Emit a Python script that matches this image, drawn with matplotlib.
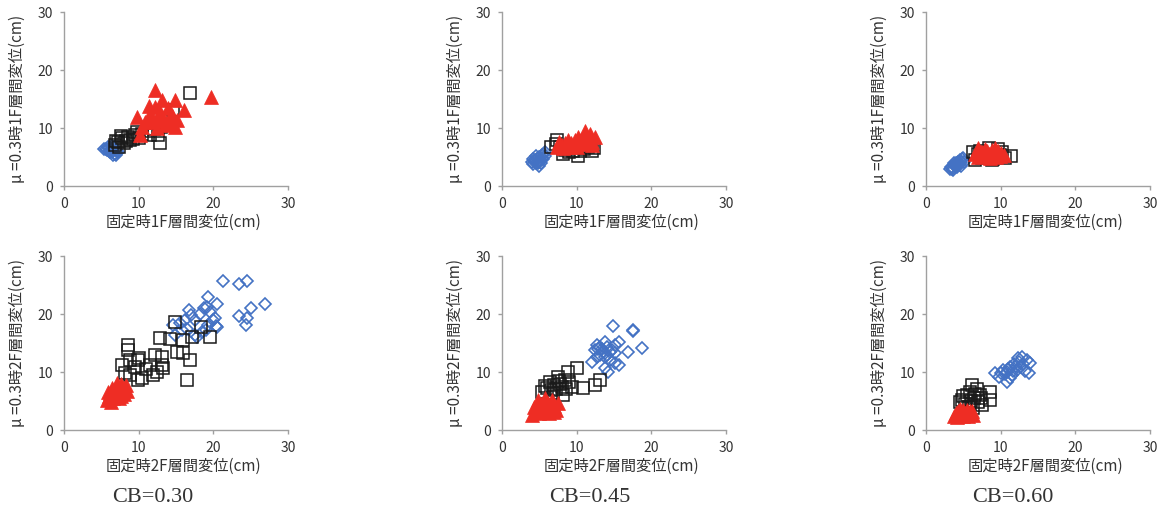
import matplotlib
matplotlib.use("Agg")
import matplotlib.pyplot as plt

plt.rcParams['font.family'] = ['Noto Sans CJK JP', 'DejaVu Sans']

# CB=0.30, 1F
cb30_1f_blue_x = [5.6, 5.8, 6.0, 6.1, 6.3, 6.4, 6.5, 6.6, 6.8, 6.9, 7.0, 7.1, 6.2, 6.7, 5.9, 6.4, 7.2, 6.0, 5.4, 6.6]
cb30_1f_blue_y = [6.4, 6.2, 6.5, 6.0, 6.3, 5.8, 6.6, 6.1, 5.6, 6.2, 5.3, 6.0, 5.9, 6.8, 6.7, 6.9, 5.8, 6.1, 6.3, 5.4]
cb30_1f_black_x = [16.9, 14.6, 12.9, 12.6, 11.5, 9.5, 8.6, 7.8, 7.2, 6.8, 7.4, 8.0, 8.9, 9.8, 10.5, 11.2, 12.0, 13.0, 7.6, 8.3, 9.2, 7.0, 10.0, 12.3]
cb30_1f_black_y = [16.0, 13.1, 7.4, 8.8, 8.8, 8.8, 8.4, 8.2, 7.6, 7.1, 6.8, 7.4, 7.9, 9.3, 9.0, 9.5, 9.8, 10.2, 8.6, 7.7, 8.1, 7.8, 8.3, 11.5]
cb30_1f_red_x = [12.2, 19.7, 14.9, 13.1, 16.1, 11.4, 9.8, 13.9, 12.9, 14.5, 10.8, 11.9, 14.9, 13.5, 10.2, 11.2, 12.6, 12.2, 13.3, 14.1, 11.6, 12.4, 15.1, 13.7, 10.5]
cb30_1f_red_y = [16.6, 15.3, 14.8, 14.8, 13.1, 13.8, 11.9, 13.4, 12.8, 12.2, 11.0, 11.0, 10.2, 10.5, 8.8, 11.7, 11.7, 13.6, 11.2, 11.5, 12.3, 10.0, 11.4, 10.8, 10.2]

# CB=0.30, 2F
cb30_2f_blue_x = [21.3, 23.4, 24.5, 26.9, 25.0, 23.4, 24.5, 24.4, 19.3, 20.5, 19.1, 16.7, 18.2, 20.2, 17.5, 16.2,
                  19.3, 20.5, 14.6, 15.8, 17.5, 14.9, 18.5, 19.5, 19.9, 16.5, 17.8, 20.3, 18.8, 15.5, 19.0, 17.0]
cb30_2f_blue_y = [25.7, 25.2, 25.7, 21.7, 21.0, 19.7, 19.3, 18.1, 22.9, 21.7, 21.2, 20.7, 20.0, 19.3, 19.0, 19.0,
                  18.1, 17.8, 18.1, 17.2, 16.4, 16.4, 16.9, 20.3, 19.0, 17.5, 16.0, 18.0, 21.0, 18.5, 17.2, 19.8]
cb30_2f_black_x = [14.9, 18.3, 19.5, 12.9, 14.2, 15.9, 17.1, 15.1, 15.9, 16.9, 16.5, 8.6, 8.6, 12.2, 13.1, 9.9,
                   13.1, 11.5, 7.8, 8.8, 9.5, 13.3, 11.9, 10.4, 8.8, 9.9, 10.0, 12.5, 11.0, 8.2]
cb30_2f_black_y = [18.6, 17.8, 16.0, 15.9, 15.7, 15.5, 16.0, 13.4, 13.3, 12.1, 8.6, 14.7, 13.8, 12.9, 12.6, 12.1,
                   11.2, 11.2, 11.2, 12.1, 10.9, 10.7, 9.5, 9.0, 9.5, 8.6, 12.5, 10.0, 10.5, 9.8]
cb30_2f_red_x = [5.8, 6.0, 6.2, 6.5, 6.8, 7.0, 7.2, 7.5, 7.6, 7.8, 8.0, 8.3, 8.5, 6.4, 6.9, 7.4, 5.9, 6.6, 7.1, 8.1, 6.3, 7.7]
cb30_2f_red_y = [5.2, 5.8, 6.3, 5.5, 6.8, 7.5, 6.2, 7.0, 8.0, 6.5, 7.2, 7.8, 6.8, 7.2, 5.8, 5.6, 6.5, 6.0, 8.1, 6.2, 4.9, 5.9]

# CB=0.45, 1F
cb45_1f_blue_x = [4.0, 4.2, 4.4, 4.5, 4.7, 4.8, 5.0, 5.1, 5.3, 5.4, 5.6, 5.7, 4.3, 4.9, 5.2, 4.6, 5.5, 4.1, 5.0, 5.7]
cb45_1f_blue_y = [4.1, 3.8, 4.5, 4.0, 4.7, 3.9, 5.0, 4.4, 5.3, 4.8, 5.6, 5.2, 4.3, 4.2, 3.9, 5.1, 4.6, 4.6, 3.5, 5.8]
cb45_1f_black_x = [7.4, 8.2, 10.2, 12.0, 6.6, 8.5, 9.5, 11.0, 11.5, 12.3, 7.8, 9.0, 10.5, 7.2]
cb45_1f_black_y = [7.9, 5.5, 5.2, 6.0, 6.7, 6.2, 6.0, 6.3, 6.8, 6.5, 6.8, 5.8, 6.1, 7.3]
cb45_1f_red_x = [7.3, 7.6, 8.0, 8.5, 8.9, 9.3, 9.8, 10.2, 10.6, 11.1, 11.4, 11.8, 12.1, 12.4, 8.2, 9.0, 9.7, 10.5, 11.2, 12.0, 7.8, 10.0]
cb45_1f_red_y = [6.7, 7.6, 7.0, 7.5, 8.0, 7.4, 7.9, 8.5, 8.0, 9.4, 8.3, 8.9, 7.6, 8.4, 6.6, 6.8, 7.0, 7.2, 7.5, 7.0, 7.2, 6.7]

# CB=0.45, 2F
cb45_2f_blue_x = [14.9, 17.5, 17.6, 18.7, 16.9, 15.7, 15.1, 13.8, 12.7, 12.5, 13.5, 12.0, 12.7, 13.8, 14.2, 15.7,
                  15.1, 14.5, 15.1, 14.1, 13.1, 14.7, 13.8, 13.1, 14.0, 13.4, 14.4, 12.9]
cb45_2f_blue_y = [17.9, 17.2, 17.1, 14.1, 13.4, 15.2, 14.7, 15.2, 14.7, 13.8, 13.4, 11.7, 12.6, 10.7, 10.0, 11.2,
                  11.6, 12.1, 13.3, 14.3, 14.3, 13.8, 12.6, 12.9, 13.0, 13.9, 13.5, 14.0]
cb45_2f_black_x = [10.0, 8.8, 7.5, 13.1, 12.5, 10.8, 9.4, 5.4, 6.8, 8.2, 6.4, 7.0, 7.8, 8.5, 6.0, 7.2, 8.0, 9.0, 6.5, 7.6, 5.8, 8.6]
cb45_2f_black_y = [10.7, 10.0, 9.1, 8.6, 7.8, 7.2, 7.4, 6.5, 6.4, 6.0, 8.3, 7.8, 8.0, 8.6, 7.2, 7.0, 7.5, 8.2, 6.9, 8.4, 7.6, 7.0]
cb45_2f_red_x = [4.0, 4.4, 4.8, 5.2, 5.8, 6.2, 6.7, 7.0, 7.5, 4.6, 5.4, 6.0, 6.5, 7.2, 5.0, 5.6, 6.3, 4.3, 6.9, 5.9]
cb45_2f_red_y = [2.6, 3.1, 5.2, 4.4, 5.6, 4.6, 5.2, 4.2, 4.7, 3.8, 3.5, 3.2, 3.7, 3.4, 3.0, 4.8, 2.9, 3.9, 3.1, 4.0]

# CB=0.60, 1F
cb60_1f_blue_x = [3.2, 3.4, 3.6, 3.7, 3.9, 4.0, 4.2, 4.3, 4.5, 4.6, 4.8, 3.5, 4.1, 4.4, 3.8, 4.7, 4.9, 5.1, 4.7, 3.6]
cb60_1f_blue_y = [3.0, 3.3, 3.1, 3.6, 3.4, 3.9, 3.7, 4.2, 4.0, 4.5, 4.7, 2.9, 3.2, 3.6, 4.0, 4.1, 4.9, 4.2, 3.5, 2.8]
cb60_1f_black_x = [6.9, 8.5, 10.2, 11.4, 6.6, 6.3, 7.5, 9.0, 9.6, 8.0, 10.6, 7.2, 8.8, 9.9]
cb60_1f_black_y = [5.5, 6.5, 5.9, 5.2, 4.5, 5.8, 4.8, 4.6, 6.4, 5.2, 4.9, 6.0, 4.4, 5.3]
cb60_1f_red_x = [6.5, 6.9, 7.5, 7.9, 8.4, 8.8, 9.3, 9.7, 10.1, 10.4, 7.0, 7.9, 8.6, 9.4, 9.9, 7.4, 8.2, 9.0]
cb60_1f_red_y = [5.6, 6.6, 5.9, 6.3, 5.6, 6.2, 6.6, 6.1, 5.7, 5.4, 5.0, 5.1, 4.9, 5.0, 5.2, 5.8, 6.0, 5.5]

# CB=0.60, 2F
cb60_2f_blue_x = [9.2, 12.3, 13.9, 13.8, 10.9, 9.8, 10.3, 10.6, 11.0, 11.3, 11.6, 12.0, 12.5, 13.0, 13.3, 12.8,
                  11.8, 12.2, 10.8, 11.5, 13.5, 12.6, 10.0, 11.2]
cb60_2f_blue_y = [9.8, 12.4, 11.6, 9.8, 8.3, 9.2, 10.3, 9.6, 10.6, 9.0, 10.2, 11.0, 11.8, 11.3, 10.2, 12.6,
                  11.4, 10.4, 10.0, 9.5, 12.1, 10.8, 9.9, 10.8]
cb60_2f_black_x = [6.2, 5.9, 8.6, 8.6, 4.8, 7.3, 7.5, 6.3, 5.5, 6.0, 6.6, 7.0, 5.2, 5.7, 6.4, 6.8, 4.6, 7.2, 5.0]
cb60_2f_black_y = [7.8, 6.6, 6.6, 5.2, 5.2, 5.5, 4.3, 3.8, 6.0, 5.0, 6.2, 4.8, 4.4, 4.0, 5.6, 7.0, 4.8, 6.0, 5.8]
cb60_2f_red_x = [3.7, 4.0, 4.3, 4.6, 4.9, 5.2, 5.5, 5.8, 6.1, 6.3, 4.5, 5.0, 5.6, 4.2, 5.9]
cb60_2f_red_y = [2.4, 2.9, 3.2, 2.6, 3.4, 3.0, 3.5, 2.8, 3.2, 2.6, 3.6, 2.5, 2.4, 2.3, 3.3]

captions = ['CB=0.30', 'CB=0.45', 'CB=0.60']
xlabel_1f = '固定時1F層間変位(cm)'
ylabel_1f = 'μ =0.3時1F層間変位(cm)'
xlabel_2f = '固定時2F層間変位(cm)'
ylabel_2f = 'μ =0.3時2F層間変位(cm)'
ticks = [0, 10, 20, 30]

panels = [
    (0, 0, cb30_1f_blue_x, cb30_1f_blue_y, cb30_1f_black_x, cb30_1f_black_y, cb30_1f_red_x, cb30_1f_red_y),
    (1, 0, cb30_2f_blue_x, cb30_2f_blue_y, cb30_2f_black_x, cb30_2f_black_y, cb30_2f_red_x, cb30_2f_red_y),
    (0, 1, cb45_1f_blue_x, cb45_1f_blue_y, cb45_1f_black_x, cb45_1f_black_y, cb45_1f_red_x, cb45_1f_red_y),
    (1, 1, cb45_2f_blue_x, cb45_2f_blue_y, cb45_2f_black_x, cb45_2f_black_y, cb45_2f_red_x, cb45_2f_red_y),
    (0, 2, cb60_1f_blue_x, cb60_1f_blue_y, cb60_1f_black_x, cb60_1f_black_y, cb60_1f_red_x, cb60_1f_red_y),
    (1, 2, cb60_2f_blue_x, cb60_2f_blue_y, cb60_2f_black_x, cb60_2f_black_y, cb60_2f_red_x, cb60_2f_red_y),
]

W, H = 1167, 512
fig = plt.figure(figsize=(W / 100, H / 100), dpi=100)

lefts = [64, 502, 926]
tops = [12, 256]
aw, ah = 224, 174
gray = '#a0a0a0'
txt = '#333333'

for row, col, bx, by, kx, ky, rx, ry in panels:
    ax = fig.add_axes([lefts[col] / W, 1 - (tops[row] + ah) / H, aw / W, ah / H])
    ax.plot(bx, by, 'D', ms=6.5, mfc='none', mec='#4472c4', mew=1.2, ls='none')
    ax.plot(kx, ky, 's', ms=9, mfc='none', mec='#1a1a1a', mew=1.1, ls='none')
    ax.plot(rx, ry, '^', ms=10.5, mfc='#ee2d24', mec='#ee2d24', mew=0.5, ls='none')
    ax.set_xlim(0, 30)
    ax.set_ylim(0, 30)
    ax.set_xticks(ticks)
    ax.set_yticks(ticks)
    for s in ['top', 'right']:
        ax.spines[s].set_visible(False)
    for s in ['left', 'bottom']:
        ax.spines[s].set_color(gray)
        ax.spines[s].set_linewidth(1)
    ax.tick_params(direction='out', length=3, width=1, color=gray, labelsize=10,
                   labelcolor=txt, pad=5)
    ax.set_xlabel(xlabel_1f if row == 0 else xlabel_2f, fontsize=11, color=txt)
    ax.set_ylabel(ylabel_1f if row == 0 else ylabel_2f, fontsize=11, color=txt)
    ax.xaxis.set_label_coords(0.535, -0.16)
    ax.yaxis.set_label_coords(-0.17, 0.5)
    ax.patch.set_alpha(0)

cap_x = [153, 590, 1013]
for cx, c in zip(cap_x, captions):
    fig.text(cx / W, 1 - 498 / H, c, ha='center', va='center', fontsize=16,
             family='Liberation Serif', color=txt)

fig.savefig('out.png', dpi=100)
